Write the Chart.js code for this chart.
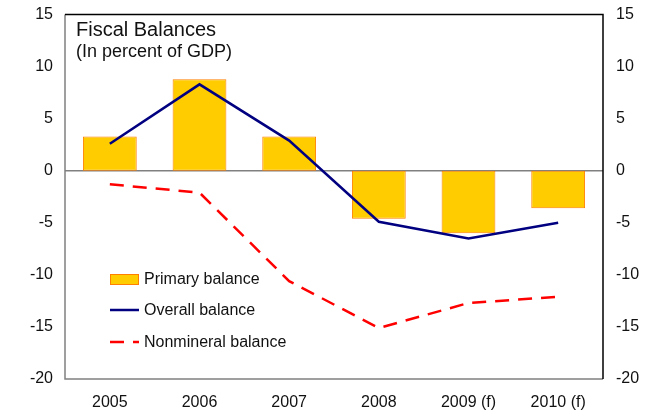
<!DOCTYPE html>
<html>
<head>
<meta charset="utf-8">
<script src="https://cdn.jsdelivr.net/npm/chart.js@4"></script>
<style>
  html, body { margin: 0; padding: 0; background: #fff; }
  #wrap { width: 650px; height: 410px; }
</style>
</head>
<body>
<div id="wrap"><canvas id="fiscal"></canvas></div>
<script>
// Years on the x axis
const years = ["2005", "2006", "2007", "2008", "2009 (f)", "2010 (f)"];

// Balances in percent of GDP
const primaryBalance = [3.3, 8.8, 3.3, -4.6, -6.0, -3.6];
const overallBalance = [2.6, 8.3, 2.9, -4.9, -6.5, -5.0];
const nonmineralBalance = [-1.3, -2.1, -10.6, -15.1, -12.7, -12.1];

// Shared y ticks
const yMin = -20;
const yMax = 15;
const yStep = 5;

const FONT = "'Liberation Sans', Arial, sans-serif";

// Frame, zero line, title and legend drawn straight onto the canvas
const framePlugin = {
  id: "frame",
  beforeDatasetsDraw(chart) {
    const { ctx, chartArea: a, scales } = chart;
    const y0 = scales.y.getPixelForValue(0);
    ctx.save();
    ctx.strokeStyle = "#808080";
    ctx.lineWidth = 1.5;
    ctx.beginPath();
    ctx.moveTo(a.left, y0);
    ctx.lineTo(a.right, y0);
    ctx.stroke();
    ctx.restore();
  },
  afterDatasetsDraw(chart) {
    const { ctx, chartArea: a } = chart;
    ctx.save();
    // left and bottom in grey, top and right in black
    ctx.lineWidth = 1.5;
    ctx.strokeStyle = "#808080";
    ctx.beginPath();
    ctx.moveTo(a.left, a.top);
    ctx.lineTo(a.left, a.bottom);
    ctx.lineTo(a.right, a.bottom);
    ctx.stroke();
    ctx.strokeStyle = "#000";
    ctx.beginPath();
    ctx.moveTo(a.left, a.top);
    ctx.lineTo(a.right, a.top);
    ctx.lineTo(a.right, a.bottom);
    ctx.stroke();

    // title
    ctx.fillStyle = "#111";
    ctx.textBaseline = "middle";
    ctx.textAlign = "left";
    ctx.font = "20px " + FONT;
    ctx.fillText("Fiscal Balances", a.left + 11, 30);
    ctx.font = "18px " + FONT;
    ctx.fillText("(In percent of GDP)", a.left + 11, 52);

    // legend
    const ds = chart.data.datasets;
    const lx = 110, lw = 29, tx = 144;
    const rows = [279, 310, 342];
    ctx.font = "16px " + FONT;
    ds.forEach((d, i) => {
      const y = rows[i];
      if (d.type === "bar") {
        ctx.fillStyle = d.backgroundColor;
        ctx.fillRect(lx, y - 5, lw, 10);
        ctx.strokeStyle = d.borderColor;
        ctx.lineWidth = 1;
        ctx.strokeRect(lx + 0.5, y - 5 + 0.5, lw - 1, 10);
      } else {
        ctx.strokeStyle = d.borderColor;
        ctx.lineWidth = d.borderWidth;
        ctx.setLineDash(d.borderDash || []);
        ctx.beginPath();
        ctx.moveTo(lx, y);
        ctx.lineTo(lx + lw, y);
        ctx.stroke();
        ctx.setLineDash([]);
      }
      ctx.fillStyle = "#111";
      ctx.fillText(d.label, tx, y + 1);
    });
    ctx.restore();
  }
};

const tickFont = { family: FONT, size: 16 };

new Chart(document.getElementById("fiscal"), {
  type: "bar",
  data: {
    labels: years,
    datasets: [
      {
        type: "bar",
        label: "Primary balance",
        data: primaryBalance,
        backgroundColor: "#FFCC00",
        borderColor: "#FF8000",
        borderWidth: 1,
        borderSkipped: false,
        categoryPercentage: 0.6,
        barPercentage: 1,
        order: 3
      },
      {
        type: "line",
        label: "Overall balance",
        data: overallBalance,
        borderColor: "#000080",
        borderWidth: 2.5,
        pointRadius: 0,
        tension: 0,
        fill: false,
        order: 2
      },
      {
        type: "line",
        label: "Nonmineral balance",
        data: nonmineralBalance,
        borderColor: "#FF0000",
        borderWidth: 2.5,
        borderDash: [14, 9],
        pointRadius: 0,
        tension: 0,
        fill: false,
        order: 1
      }
    ]
  },
  options: {
    responsive: true,
    maintainAspectRatio: false,
    animation: false,
    layout: { padding: { top: 3, left: 0, right: 0, bottom: 0 } },
    plugins: {
      legend: { display: false },
      tooltip: { enabled: false }
    },
    scales: {
      x: {
        offset: true,
        grid: { display: false },
        border: { display: false },
        ticks: { font: tickFont, color: "#111", padding: 6 },
        afterFit(s) { s.height = 31; }
      },
      y: {
        position: "left",
        min: yMin,
        max: yMax,
        grid: { display: false },
        border: { display: false },
        ticks: { stepSize: yStep, font: tickFont, color: "#111", padding: 4 },
        afterFit(s) { s.width = 65; }
      },
      y1: {
        position: "right",
        min: yMin,
        max: yMax,
        grid: { display: false },
        border: { display: false },
        ticks: { stepSize: yStep, font: tickFont, color: "#111", padding: 5 },
        afterFit(s) { s.width = 47; }
      }
    }
  },
  plugins: [framePlugin]
});
</script>
</body>
</html>
